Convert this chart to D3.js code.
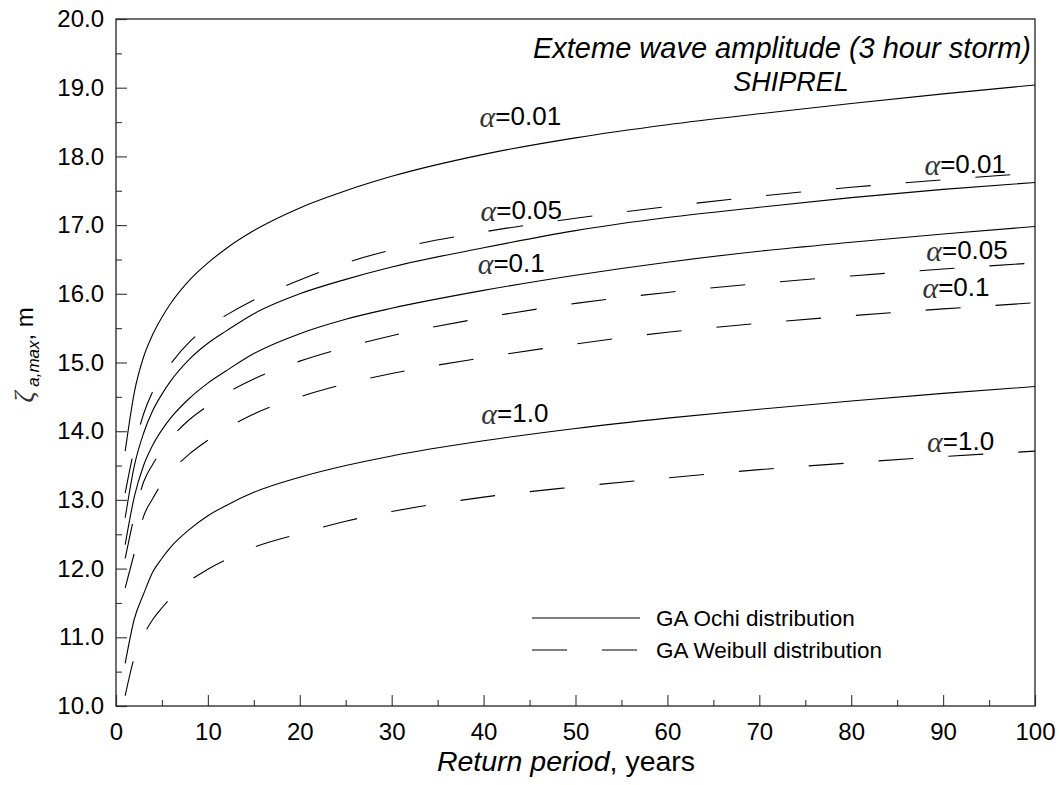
<!DOCTYPE html>
<html>
<head>
<meta charset="utf-8">
<script src="https://cdn.jsdelivr.net/npm/d3@7"></script>
<style>
  body { margin: 0; background: #fff; }
  svg text { font-family: "Liberation Sans", Arial, sans-serif; fill: #000; }
</style>
</head>
<body>
<div id="chart"></div>
<script>
// return period, years
var years = [1, 2, 3, 4, 5, 6, 8, 10, 12, 15, 20, 25, 30, 40, 50, 60, 70, 80, 90, 100];

// GA Ochi distribution (solid)
var ochi001 = [13.71, 14.57, 15.08, 15.41, 15.66, 15.87, 16.20, 16.45, 16.66, 16.92, 17.25, 17.50, 17.71, 18.03, 18.27, 18.46, 18.62, 18.77, 18.91, 19.04];
var ochi005 = [12.74, 13.50, 13.97, 14.30, 14.54, 14.74, 15.05, 15.28, 15.46, 15.71, 16.00, 16.21, 16.39, 16.67, 16.92, 17.11, 17.26, 17.40, 17.52, 17.62];
var ochi01  = [12.35, 13.05, 13.50, 13.80, 14.02, 14.20, 14.48, 14.70, 14.88, 15.13, 15.42, 15.63, 15.79, 16.05, 16.27, 16.46, 16.62, 16.75, 16.87, 16.98];
var ochi1   = [10.62, 11.27, 11.63, 11.95, 12.15, 12.32, 12.57, 12.77, 12.92, 13.11, 13.33, 13.50, 13.64, 13.86, 14.04, 14.19, 14.32, 14.44, 14.55, 14.65];

// GA Weibull distribution (dashed)
var weib001 = [13.10, 13.75, 14.25, 14.58, 14.80, 14.99, 15.30, 15.52, 15.69, 15.91, 16.20, 16.45, 16.64, 16.90, 17.10, 17.27, 17.42, 17.55, 17.66, 17.76];
var weib005 = [12.15, 12.77, 13.26, 13.52, 13.72, 13.90, 14.17, 14.37, 14.55, 14.76, 15.02, 15.22, 15.39, 15.65, 15.86, 16.02, 16.15, 16.26, 16.36, 16.45];
var weib01  = [11.72, 12.23, 12.76, 13.02, 13.24, 13.41, 13.67, 13.87, 14.04, 14.25, 14.50, 14.69, 14.84, 15.07, 15.27, 15.44, 15.57, 15.68, 15.78, 15.87];
var weib1   = [10.15, 10.71, 11.03, 11.26, 11.43, 11.58, 11.82, 11.99, 12.13, 12.31, 12.51, 12.69, 12.83, 13.04, 13.19, 13.32, 13.44, 13.54, 13.63, 13.71];

var xTicks = [0, 10, 20, 30, 40, 50, 60, 70, 80, 90, 100];
var yTicks = [10, 11, 12, 13, 14, 15, 16, 17, 18, 19, 20];

// curve labels: text and anchor point in data units
var labelText = ['0.01', '0.05', '0.1', '1.0', '0.01', '0.05', '0.1', '1.0'];
var labelAt = [[44.0, 18.59], [44.1, 17.22], [43.0, 16.45], [43.4, 14.26],
               [92.4, 17.89], [92.6, 16.64], [91.4, 16.10], [91.9, 13.86]];

var W = 1059, H = 785,
    LEFT = 116, RIGHT = 1035, TOP = 19, BOTTOM = 706,
    DASH = '35,35';

var svg = d3.select('#chart')
  .append('svg')
  .attr('width', W)
  .attr('height', H);

var x = d3.scaleLinear().domain([0, 100]).range([LEFT, RIGHT]);
var y = d3.scaleLinear().domain([10, 20]).range([BOTTOM, TOP]);

// minor ticks
svg.append('g')
  .attr('transform', 'translate(0,' + BOTTOM + ')')
  .call(d3.axisBottom(x).tickValues(d3.range(5, 100, 10)).tickSize(-6).tickFormat(''))
  .call(function (g) { g.select('.domain').remove(); });
svg.append('g')
  .attr('transform', 'translate(' + LEFT + ',0)')
  .call(d3.axisLeft(y).tickValues(d3.range(10.5, 20, 1)).tickSize(-6).tickFormat(''))
  .call(function (g) { g.select('.domain').remove(); });

// major ticks + labels
var xAxis = svg.append('g')
  .attr('transform', 'translate(0,' + BOTTOM + ')')
  .call(d3.axisBottom(x).tickValues(xTicks).tickSize(-11).tickPadding(17).tickFormat(d3.format('d')));
var yAxis = svg.append('g')
  .attr('transform', 'translate(' + LEFT + ',0)')
  .call(d3.axisLeft(y).tickValues(yTicks).tickSize(-11).tickPadding(12).tickFormat(d3.format('.1f')));

[xAxis, yAxis].forEach(function (g) {
  g.select('.domain').remove();
  g.selectAll('text').style('font-size', '24px').attr('fill', '#000');
});
svg.selectAll('.tick line').attr('stroke', '#444').attr('stroke-width', 1.2);

// frame
svg.append('rect')
  .attr('x', LEFT).attr('y', TOP)
  .attr('width', RIGHT - LEFT).attr('height', BOTTOM - TOP)
  .attr('fill', 'none').attr('stroke', '#222').attr('stroke-width', 1.3);

// curves
var line = d3.line()
  .x(function (d) { return x(d[0]); })
  .y(function (d) { return y(d[1]); })
  .curve(d3.curveMonotoneX);

var series = [
  { values: ochi001, dash: null }, { values: ochi005, dash: null },
  { values: ochi01, dash: null },  { values: ochi1, dash: null },
  { values: weib001, dash: DASH }, { values: weib005, dash: DASH },
  { values: weib01, dash: DASH },  { values: weib1, dash: DASH }
];

svg.selectAll('path.curve')
  .data(series)
  .enter()
  .append('path')
  .attr('class', 'curve')
  .attr('d', function (d) { return line(d.values.map(function (v, i) { return [years[i], v]; })); })
  .attr('fill', 'none')
  .attr('stroke', '#000')
  .attr('stroke-width', 1.1)
  .attr('stroke-dasharray', function (d) { return d.dash; });

// alpha labels
var lbl = svg.selectAll('text.alpha')
  .data(labelText)
  .enter()
  .append('text')
  .attr('class', 'alpha')
  .attr('x', function (d, i) { return x(labelAt[i][0]); })
  .attr('y', function (d, i) { return y(labelAt[i][1]); })
  .attr('text-anchor', 'middle')
  .attr('dominant-baseline', 'central')
  .style('font-size', '26px');
lbl.append('tspan')
  .style('font-family', '"Liberation Serif", "DejaVu Serif", serif')
  .style('font-style', 'italic')
  .style('font-size', '30px')
  .attr('fill', '#333')
  .text('\u03b1');
lbl.append('tspan')
  .text(function (d) { return '=' + d; });

// title
svg.append('text')
  .attr('x', 1031).attr('y', 58)
  .attr('text-anchor', 'end')
  .style('font-size', '29px').style('font-style', 'italic')
  .text('Exteme wave amplitude (3 hour storm)');
svg.append('text')
  .attr('x', 791).attr('y', 91)
  .attr('text-anchor', 'middle')
  .style('font-size', '27px').style('font-style', 'italic')
  .text('SHIPREL');

// legend
var legend = [
  { label: 'GA Ochi distribution', dash: null, y: 618 },
  { label: 'GA Weibull distribution', dash: DASH, y: 650 }
];
var lg = svg.selectAll('g.legend')
  .data(legend)
  .enter()
  .append('g')
  .attr('class', 'legend')
  .attr('transform', function (d) { return 'translate(0,' + d.y + ')'; });
lg.append('line')
  .attr('x1', 532).attr('x2', 640)
  .attr('stroke', '#000').attr('stroke-width', 1.1)
  .attr('stroke-dasharray', function (d) { return d.dash; });
lg.append('text')
  .attr('x', 656)
  .attr('dominant-baseline', 'central')
  .style('font-size', '22.5px')
  .text(function (d) { return d.label; });

// axis titles
var xt = svg.append('text')
  .attr('x', 566).attr('y', 771)
  .attr('text-anchor', 'middle')
  .style('font-size', '28.5px');
xt.append('tspan').style('font-style', 'italic').text('Return period');
xt.append('tspan').text(', years');

var yt = svg.append('text')
  .attr('transform', 'translate(33,355) rotate(-90)')
  .attr('text-anchor', 'middle')
  .style('font-size', '24px');
yt.append('tspan')
  .style('font-family', '"Liberation Serif", "DejaVu Serif", serif')
  .style('font-style', 'italic')
  .style('font-size', '28px')
  .attr('fill', '#333')
  .text('\u03b6');
yt.append('tspan')
  .attr('dy', 6)
  .style('font-style', 'italic')
  .style('font-size', '17px')
  .text(' a,max');
yt.append('tspan')
  .attr('dy', -6)
  .text(', m');
</script>
</body>
</html>
